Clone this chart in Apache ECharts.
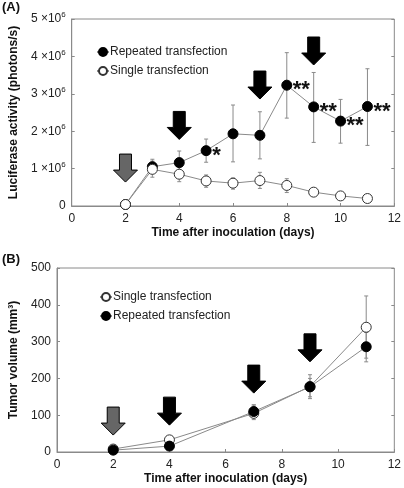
<!DOCTYPE html>
<html><head><meta charset="utf-8">
<script src="https://cdn.jsdelivr.net/npm/echarts@6/dist/echarts.min.js"></script>
<style>html,body{margin:0;padding:0;background:#fff}#c{width:404px;height:488px}</style>
</head><body><div id="c"></div>
<script>
// Panel A: luciferase activity (x10^6 photons/s)
const daysA = [2, 3, 4, 5, 6, 7, 8, 9, 10, 11];
const repeatedLuc     = [0.04, 1.05, 1.16, 1.48, 1.93, 1.89, 3.23, 2.65, 2.27, 2.66];
const repeatedLucLow  = [0.02, 0.90, 0.85, 1.17, 1.18, 1.26, 2.35, 1.70, 1.68, 1.62];
const repeatedLucHigh = [0.06, 1.25, 1.47, 1.79, 2.70, 2.52, 4.10, 3.57, 2.85, 3.67];
const singleLuc       = [0.04, 0.98, 0.85, 0.67, 0.61, 0.68, 0.55, 0.37, 0.27, 0.20];
const singleLucLow    = [0.02, 0.77, 0.65, 0.50, 0.45, 0.47, 0.36, 0.31, 0.22, 0.16];
const singleLucHigh   = [0.06, 1.20, 1.05, 0.83, 0.75, 0.90, 0.73, 0.43, 0.32, 0.24];
const starDaysA = [5, 8, 9, 10, 11];
const starTextA = ['*', '**', '**', '**', '**'];
const arrowDaysA = [2, 4, 7, 9];
const arrowTipsA = [0.64, 1.78, 2.86, 3.77];
const arrowKindA = ['single', 'repeat', 'repeat', 'repeat'];
// Panel B: tumor volume (mm3)
const daysB = [2, 4, 7, 9, 11];
const singleVol       = [8, 33, 105, 178, 339];
const singleVolLow    = [5, 28, 88, 145, 255];
const singleVolHigh   = [11, 38, 128, 210, 424];
const repeatedVol     = [5, 16, 110, 177, 286];
const repeatedVolLow  = [3, 12, 95, 150, 245];
const repeatedVolHigh = [7, 20, 128, 200, 325];
const arrowDaysB = [2, 4, 7, 9];
const arrowTipsB = [46, 73, 160, 245];
const arrowKindB = ['single', 'repeat', 'repeat', 'repeat'];
const xTicks = { min: 0, max: 12, interval: 2 };

const FONT = 'Liberation Sans, Arial, sans-serif';
const GRAY = '#8a8a8a';
const zip = (xs, ys) => xs.map((x, i) => [x, ys[i]]);
const errData = (xs, lo, hi) => xs.map((x, i) => [x, lo[i], hi[i]]);

function errRender(params, api) {
  const x = api.value(0);
  const p1 = api.coord([x, api.value(2)]);
  const p2 = api.coord([x, api.value(1)]);
  const s = { stroke: GRAY, lineWidth: 1 };
  return { type: 'group', children: [
    { type: 'line', shape: { x1: p1[0], y1: p1[1], x2: p2[0], y2: p2[1] }, style: s },
    { type: 'line', shape: { x1: p1[0] - 2, y1: p1[1], x2: p1[0] + 2, y2: p1[1] }, style: s },
    { type: 'line', shape: { x1: p2[0] - 2, y1: p2[1], x2: p2[0] + 2, y2: p2[1] }, style: s }
  ]};
}
function arrowRender(params, api) {
  const p = api.coord([api.value(0), api.value(1)]);
  const kind = api.value(2);
  const tx = p[0], ty = p[1];
  const H = 28, hh = 12, sw = 6, hw = 12;
  return { type: 'polygon', shape: { points: [
    [tx - sw, ty - H], [tx + sw, ty - H], [tx + sw, ty - hh], [tx + hw, ty - hh],
    [tx, ty], [tx - hw, ty - hh], [tx - sw, ty - hh]] },
    style: { fill: kind === 1 ? '#666666' : '#000000', stroke: '#000', lineWidth: 1 } };
}
function starRender(params, api) {
  const p = api.coord([api.value(0), api.value(1)]);
  return { type: 'text', x: p[0] + 6, y: p[1] + 5,
    style: { text: starTextA[params.dataIndex],
             font: 'bold 22px ' + FONT, fill: '#111',
             align: 'left', verticalAlign: 'middle' } };
}
const kindCode = k => (k === 'single' ? 1 : 2);

const axisCommonX = (gi) => ({
  type: 'value', gridIndex: gi, min: xTicks.min, max: xTicks.max, interval: xTicks.interval,
  axisLine: { show: true, lineStyle: { color: GRAY } },
  axisTick: { show: true, inside: true, length: 3, lineStyle: { color: GRAY } },
  splitLine: { show: false },
  axisLabel: { color: '#222', fontSize: 12, fontFamily: FONT, margin: 7 },
  name: 'Time after inoculation (days)', nameLocation: 'middle', nameGap: 21,
  nameTextStyle: { color: '#111', fontSize: 12, fontWeight: 'bold', fontFamily: FONT }
});

const option = {
  animation: false,
  backgroundColor: '#fff',
  textStyle: { fontFamily: FONT },
  graphic: [
    { type: 'text', left: 2, top: 1, style: { text: '(A)', font: 'bold 13px ' + FONT, fill: '#111' } },
    { type: 'text', left: 2, top: 253, style: { text: '(B)', font: 'bold 13px ' + FONT, fill: '#111' } }
  ],
  legend: [
    { left: 91, top: 41, orient: 'vertical', itemGap: 7, itemWidth: 12, itemHeight: 10,
      data: ['Repeated transfection A', 'Single transfection A'],
      formatter: n => n.replace(/ [AB]$/, ''),
      textStyle: { fontSize: 12, color: '#222', fontFamily: FONT, padding: [0, 0, 0, -4] } },
    { left: 94, top: 286, orient: 'vertical', itemGap: 7, itemWidth: 12, itemHeight: 10,
      data: ['Single transfection B', 'Repeated transfection B'],
      formatter: n => n.replace(/ [AB]$/, ''),
      textStyle: { fontSize: 12, color: '#222', fontFamily: FONT, padding: [0, 0, 0, -4] } }
  ],
  grid: [
    { left: 55, right: 7, top: 19, height: 187, show: true, borderColor: GRAY, borderWidth: 1 },
    { left: 55, right: 7, top: 268, height: 184, show: true, borderColor: GRAY, borderWidth: 1 }
  ],
  xAxis: [axisCommonX(0), axisCommonX(1)],
  yAxis: [
    { type: 'value', gridIndex: 0, min: 0, max: 5, interval: 1,
      axisLine: { show: true, lineStyle: { color: GRAY } },
      axisTick: { show: true, inside: true, length: 3, lineStyle: { color: GRAY } },
      splitLine: { show: false },
      axisLabel: { margin: 6, color: '#222', fontFamily: FONT,
        formatter: v => v === 0 ? '{b|0}' : '{b|' + v + ' ×10}{s|6}',
        rich: { b: { fontSize: 12, color: '#222', fontFamily: FONT },
                s: { fontSize: 8, color: '#222', fontFamily: FONT, padding: [0, 0, 8, 0] } } },
      name: 'Luciferase activity (photons/s)', nameLocation: 'middle', nameGap: 41,
      nameTextStyle: { color: '#111', fontSize: 12, fontWeight: 'bold', fontFamily: FONT } },
    { type: 'value', gridIndex: 0, position: 'right', min: 0, max: 5, interval: 1,
      axisLine: { show: false }, axisLabel: { show: false }, splitLine: { show: false },
      axisTick: { show: true, inside: true, length: 3, lineStyle: { color: GRAY } } },
    { type: 'value', gridIndex: 1, min: 0, max: 500, interval: 100,
      axisLine: { show: true, lineStyle: { color: GRAY } },
      axisTick: { show: true, inside: true, length: 3, lineStyle: { color: GRAY } },
      splitLine: { show: false },
      axisLabel: { margin: 6, color: '#222', fontSize: 12, fontFamily: FONT },
      name: 'Tumor volume (mm³)', nameLocation: 'middle', nameGap: 37,
      nameTextStyle: { color: '#111', fontSize: 12, fontWeight: 'bold', fontFamily: FONT } },
    { type: 'value', gridIndex: 1, position: 'right', min: 0, max: 500, interval: 100,
      axisLine: { show: false }, axisLabel: { show: false }, splitLine: { show: false },
      axisTick: { show: true, inside: true, length: 3, lineStyle: { color: GRAY } } }
  ],
  series: [
    // Panel A
    { type: 'custom', xAxisIndex: 0, yAxisIndex: 0, renderItem: errRender, z: 1, silent: true,
      data: errData(daysA, repeatedLucLow, repeatedLucHigh) },
    { type: 'custom', xAxisIndex: 0, yAxisIndex: 0, renderItem: errRender, z: 1, silent: true,
      data: errData(daysA, singleLucLow, singleLucHigh) },
    { name: 'Repeated transfection A', type: 'line', xAxisIndex: 0, yAxisIndex: 0, z: 3,
      data: zip(daysA, repeatedLuc), symbol: 'circle', symbolSize: 10,
      lineStyle: { color: GRAY, width: 1 },
      itemStyle: { color: '#000', borderColor: '#000', borderWidth: 1 } },
    { name: 'Single transfection A', type: 'line', xAxisIndex: 0, yAxisIndex: 0, z: 4,
      data: zip(daysA, singleLuc), symbol: 'circle', symbolSize: 10,
      lineStyle: { color: GRAY, width: 1 },
      itemStyle: { color: '#fff', borderColor: '#333', borderWidth: 1 } },
    { type: 'custom', xAxisIndex: 0, yAxisIndex: 0, renderItem: starRender, z: 5, silent: true,
      data: starDaysA.map(d => [d, repeatedLuc[daysA.indexOf(d)]]) },
    { type: 'custom', xAxisIndex: 0, yAxisIndex: 0, renderItem: arrowRender, z: 6, silent: true,
      data: arrowDaysA.map((d, i) => [d, arrowTipsA[i], kindCode(arrowKindA[i])]) },
    // Panel B
    { type: 'custom', xAxisIndex: 1, yAxisIndex: 2, renderItem: errRender, z: 1, silent: true,
      data: errData(daysB, singleVolLow, singleVolHigh) },
    { type: 'custom', xAxisIndex: 1, yAxisIndex: 2, renderItem: errRender, z: 1, silent: true,
      data: errData(daysB, repeatedVolLow, repeatedVolHigh) },
    { name: 'Single transfection B', type: 'line', xAxisIndex: 1, yAxisIndex: 2, z: 3,
      data: zip(daysB, singleVol), symbol: 'circle', symbolSize: 10,
      lineStyle: { color: GRAY, width: 1 },
      itemStyle: { color: '#fff', borderColor: '#333', borderWidth: 1 } },
    { name: 'Repeated transfection B', type: 'line', xAxisIndex: 1, yAxisIndex: 2, z: 4,
      data: zip(daysB, repeatedVol), symbol: 'circle', symbolSize: 10,
      lineStyle: { color: GRAY, width: 1 },
      itemStyle: { color: '#000', borderColor: '#000', borderWidth: 1 } },
    { type: 'custom', xAxisIndex: 1, yAxisIndex: 2, renderItem: arrowRender, z: 6, silent: true,
      data: arrowDaysB.map((d, i) => [d, arrowTipsB[i], kindCode(arrowKindB[i])]) }
  ]
};
const chart = echarts.init(document.getElementById('c'), null, { renderer: 'canvas' });
chart.setOption(option);
</script></body></html>
